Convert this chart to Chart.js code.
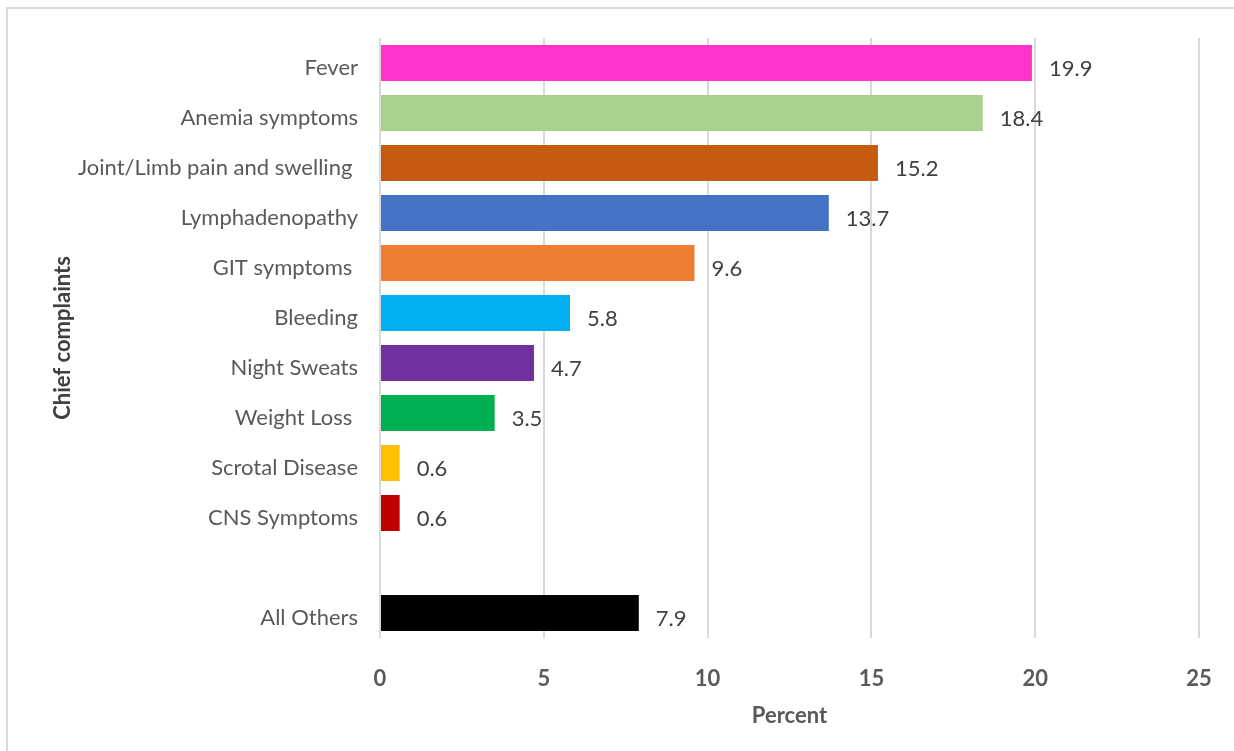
<!DOCTYPE html>
<html>
<head>
<meta charset="utf-8">
<script src="https://cdn.jsdelivr.net/npm/chart.js@4"></script>
<style>
  html, body { margin: 0; padding: 0; background: #fff; }
  #wrap { width: 1234px; height: 751px; position: relative; }
</style>
</head>
<body>
<div id="wrap"><canvas id="complaints"></canvas></div>
<script>
// chief complaints, percent of cases (blank row before "All Others")
const complaints = [
  "Fever",
  "Anemia symptoms",
  "Joint/Limb pain and swelling ",
  "Lymphadenopathy",
  "GIT symptoms ",
  "Bleeding",
  "Night Sweats",
  "Weight Loss ",
  "Scrotal Disease",
  "CNS Symptoms",
  "",
  "All Others",
];
const percents = [19.9, 18.4, 15.2, 13.7, 9.6, 5.8, 4.7, 3.5, 0.6, 0.6, null, 7.9];
const barColors = [
  "#FF33CC", "#A9D18E", "#C55A11", "#4472C4", "#ED7D31", "#00B0F0",
  "#7030A0", "#00B050", "#FFC000", "#C00000", "#FFFFFF", "#000000",
];
const xTicks = [0, 5, 10, 15, 20, 25];

const FONT = "Lato, 'Open Sans', sans-serif";

// light frame around the whole figure
const framePlugin = {
  id: "frame",
  beforeDraw(chart) {
    const ctx = chart.ctx;
    ctx.save();
    ctx.strokeStyle = "#d9d9d9";
    ctx.lineWidth = 2;
    ctx.strokeRect(7, 8, 1260, 780);
    ctx.restore();
  },
};

// value labels to the right of each bar
const valueLabels = {
  id: "valueLabels",
  afterDatasetsDraw(chart) {
    const ctx = chart.ctx;
    const meta = chart.getDatasetMeta(0);
    ctx.save();
    ctx.font = "22px " + FONT;
    ctx.fillStyle = "#404040";
    ctx.textAlign = "left";
    ctx.textBaseline = "middle";
    meta.data.forEach((bar, i) => {
      const v = percents[i];
      if (v === null) return;
      ctx.fillText(v.toFixed(1), bar.x + 17, bar.y + 6);
    });
    ctx.restore();
  },
};

const ctx = document.getElementById("complaints").getContext("2d");
new Chart(ctx, {
  type: "bar",
  data: {
    labels: complaints,
    datasets: [
      {
        label: "Percent",
        data: percents,
        backgroundColor: barColors,
        borderWidth: 0,
        barPercentage: 0.72,
        categoryPercentage: 1,
      },
    ],
  },
  options: {
    indexAxis: "y",
    responsive: true,
    maintainAspectRatio: false,
    animation: false,
    layout: {
      padding: { left: 0, right: 35, top: 38, bottom: 0 },
    },
    scales: {
      x: {
        min: 0,
        max: 25,
        afterBuildTicks(scale) {
          scale.ticks = xTicks.map((v) => ({ value: v }));
        },
        afterFit(scale) {
          scale.height = 113;
        },
        grid: {
          color: "#d9d9d9",
          lineWidth: 2,
          drawTicks: true,
          tickLength: 22,
          tickColor: "rgba(0,0,0,0)",
        },
        border: { display: false },
        ticks: {
          padding: 6,
          color: "#595959",
          font: { family: FONT, size: 22, weight: "bold" },
        },
        title: {
          display: true,
          text: "Percent",
          color: "#595959",
          font: { family: FONT, size: 22, weight: "bold" },
          padding: { top: 0, bottom: 22 },
        },
      },
      y: {
        afterFit(scale) {
          scale.width = 380;
        },
        grid: { display: false, drawTicks: false },
        border: { display: false },
        ticks: {
          padding: 22,
          labelOffset: 5,
          color: "#595959",
          font: { family: FONT, size: 22 },
        },
        title: {
          display: true,
          text: "Chief complaints",
          color: "#404040",
          font: { family: FONT, size: 22, weight: "bold" },
          padding: { top: 50, bottom: 0 },
        },
      },
    },
    plugins: {
      legend: { display: false },
      tooltip: { enabled: false },
    },
  },
  plugins: [framePlugin, valueLabels],
});
</script>
</body>
</html>
